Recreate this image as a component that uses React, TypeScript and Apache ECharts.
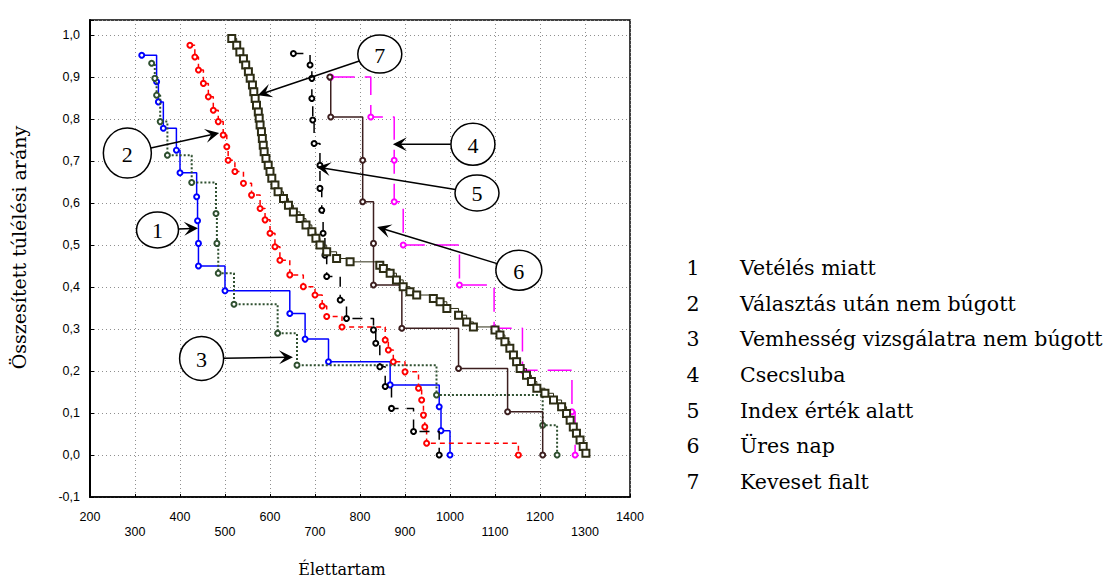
import React, { useEffect, useRef } from "react";
import * as echarts from "echarts";

// ---- data ----
const seriesNames = [
  "Vetélés miatt",
  "Választás után nem búgott",
  "Vemhesség vizsgálatra nem búgott",
  "Csecsluba",
  "Index érték alatt",
  "Üres nap",
  "Keveset fialt",
];
const legendNumbers = ["1", "2", "3", "4", "5", "6", "7"];

const s1 = [[315,0.952],[348,0.889],[352,0.841],[363,0.778],[392,0.726],[400,0.672],[437,0.615],[439,0.558],[441,0.504],[441,0.45],[500,0.391],[644,0.337],[678,0.276],[730,0.222],[867,0.167],[976,0.115],[980,0.058],[1000,0.0]];
const s2 = [[422,0.976],[433,0.948],[441,0.917],[452,0.885],[463,0.853],[474,0.821],[485,0.794],[496,0.762],[504,0.734],[507,0.702],[522,0.675],[541,0.647],[559,0.619],[578,0.587],[589,0.56],[600,0.528],[611,0.496],[622,0.464],[644,0.429],[674,0.401],[700,0.381],[716,0.355],[726,0.33],[760,0.305],[856,0.274],[863,0.25],[874,0.222],[900,0.198],[930,0.159],[937,0.131],[941,0.095],[944,0.067],[948,0.028],[1152,0.0]];
const s3 = [[337,0.933],[344,0.897],[348,0.857],[356,0.794],[372,0.714],[426,0.649],[480,0.575],[482,0.504],[485,0.433],[520,0.359],[617,0.29],[660,0.214],[970,0.143],[1206,0.071],[1238,0.0]];
const s4 = [[735,0.9],[824,0.805],[876,0.702],[876,0.603],[896,0.5],[1021,0.405],[1098,0.302],[1161,0.202],[1271,0.103],[1278,0.0]];
const s5 = [[652,0.956],[689,0.929],[693,0.897],[693,0.849],[695,0.798],[698,0.742],[711,0.69],[711,0.635],[715,0.583],[718,0.528],[722,0.476],[726,0.425],[756,0.369],[770,0.325],[830,0.298],[835,0.266],[844,0.21],[856,0.163],[870,0.111],[919,0.056],[976,0.0]];
const s6 = [[733,0.9],[735,0.805],[806,0.702],[806,0.603],[830,0.504],[830,0.405],[893,0.302],[1019,0.206],[1128,0.103],[1206,0.0]];
const s7 = [[515,0.992],[526,0.976],[533,0.96],[541,0.944],[546,0.929],[552,0.913],[556,0.897],[561,0.881],[564,0.865],[567,0.849],[570,0.833],[574,0.817],[576,0.802],[578,0.786],[581,0.77],[583,0.754],[585,0.738],[587,0.722],[591,0.706],[596,0.69],[600,0.675],[604,0.659],[611,0.643],[618,0.627],[630,0.611],[641,0.595],[652,0.579],[667,0.563],[680,0.548],[693,0.532],[702,0.516],[711,0.5],[726,0.484],[748,0.468],[778,0.46],[844,0.452],[852,0.444],[867,0.433],[881,0.417],[896,0.401],[911,0.389],[926,0.381],[963,0.373],[978,0.365],[993,0.349],[1019,0.333],[1037,0.317],[1052,0.305],[1100,0.298],[1111,0.286],[1122,0.27],[1133,0.254],[1141,0.238],[1148,0.222],[1156,0.206],[1170,0.19],[1181,0.175],[1193,0.159],[1211,0.147],[1230,0.131],[1248,0.115],[1259,0.099],[1267,0.083],[1274,0.067],[1281,0.052],[1289,0.036],[1296,0.02],[1302,0.004]];

const seriesData = [s1, s2, s3, s4, s5, s6, s7];

// callouts: number, circle centre (data), arrow tip (data)
const calloutLabels = ["1", "2", "3", "4", "5", "6", "7"];
const calloutCentres = [[350,0.536],[283,0.719],[448,0.23],[1051,0.74],[1060,0.624],[1153,0.44],[844,0.955]];
const calloutTips = [[440,0.54],[487,0.767],[651,0.233],[873,0.74],[704,0.686],[838,0.543],[573,0.857]];

// ---- styles ----
const colors = ["#0000ff", "#ff0000", "#2f5030", "#ff00ff", "#000000", "#3c1f1f", "#2d2d14"];
const lineTypes: any[] = ["solid", [5, 4], [2, 2], [24, 10], [10, 8], "solid", "solid"];
const lineWidths = [1.5, 1.5, 2, 1.5, 1.5, 1.5, 1];
const symbols = ["emptyCircle", "emptyCircle", "emptyCircle", "emptyCircle", "emptyCircle", "emptyCircle", "emptyRect"];
const calloutRadii = [[21, 18], [24, 25], [22, 22], [22, 21], [22, 18], [23, 20], [22, 19]];

const fmtY = (v: number) => {
  const k = Math.round(v * 10);
  if (Math.abs(v * 10 - k) > 1e-6) return "";
  return (k / 10).toFixed(1).replace(".", ",");
};

export default function App() {
  const ref = useRef<HTMLDivElement>(null);
  useEffect(() => {
    const chart = echarts.init(ref.current!, null, { renderer: "svg" });
    const option: any = {
      animation: false,
      backgroundColor: "#ffffff",
      grid: { left: 90, right: 487, top: 20, bottom: 85, show: true, borderColor: "#000", borderWidth: 1.5 },
      xAxis: {
        type: "value",
        min: 200,
        max: 1400,
        interval: 100,
        name: "Élettartam",
        nameLocation: "middle",
        nameGap: 64,
        nameTextStyle: { fontFamily: "DejaVu Serif", fontSize: 16, color: "#000", padding: [0, 36, 0, 0] },
        axisLine: { onZero: false, lineStyle: { color: "#000", width: 1.5 } },
        axisTick: { show: true, inside: true, length: 3, lineStyle: { color: "#000" } },
        axisLabel: {
          color: "#000",
          fontFamily: "Liberation Sans",
          fontSize: 12.5,
          margin: 12,
          lineHeight: 15,
          interval: 0,
          hideOverlap: false,
          formatter: (v: number) => (Math.round((v - 200) / 100) % 2 === 1 ? "\n" + v : String(v)),
        },
        splitLine: { show: true, lineStyle: { color: "#8f8f8f", type: [1, 3], width: 1 } },
      },
      yAxis: {
        type: "value",
        min: -0.1,
        max: 1.036,
        interval: 0.1,
        name: "Összesített túlélési arány",
        nameLocation: "middle",
        nameGap: 62,
        nameRotate: 90,
        nameTextStyle: { fontFamily: "DejaVu Serif", fontSize: 19, color: "#000", padding: [0, 0, 0, 22] },
        axisLine: { onZero: false, lineStyle: { color: "#000", width: 2 } },
        axisTick: { show: true, inside: true, length: 4, lineStyle: { color: "#000" } },
        axisLabel: { color: "#000", fontFamily: "Liberation Sans", fontSize: 12.5, margin: 10, formatter: fmtY },
        splitLine: { show: true, lineStyle: { color: "#8f8f8f", type: [1, 3], width: 1 } },
      },
      series: seriesData.map((d, i) => ({
        name: seriesNames[i],
        type: "line",
        step: "end",
        data: d,
        symbol: symbols[i],
        symbolSize: i === 6 ? 7 : 5,
        showAllSymbol: true,
        z: 2 + i,
        lineStyle: { color: colors[i], width: lineWidths[i], type: lineTypes[i] },
        itemStyle: { color: colors[i], borderColor: colors[i], borderWidth: i === 6 ? 1.5 : 1.2 },
      })),
    };
    chart.setOption(option);

    const toPx = (p: number[]) => chart.convertToPixel({ gridIndex: 0 }, p) as number[];
    const graphics: any[] = [];
    calloutLabels.forEach((lab, i) => {
      const [cx, cy] = toPx(calloutCentres[i]);
      const [tx, ty] = toPx(calloutTips[i]);
      const [rx, ry] = calloutRadii[i];
      const dx = tx - cx, dy = ty - cy;
      const t = 1 / Math.sqrt((dx / rx) ** 2 + (dy / ry) ** 2);
      const sx = cx + dx * t, sy = cy + dy * t;
      const len = Math.sqrt(dx * dx + dy * dy);
      const ux = dx / len, uy = dy / len;
      const nx = -uy, ny = ux;
      graphics.push({
        type: "line",
        z: 100,
        shape: { x1: sx, y1: sy, x2: tx - ux * 6, y2: ty - uy * 6 },
        style: { stroke: "#000", lineWidth: 1.5 },
      });
      graphics.push({
        type: "polygon",
        z: 101,
        shape: {
          points: [
            [tx, ty],
            [tx - 14 * ux + 7 * nx, ty - 14 * uy + 7 * ny],
            [tx - 8 * ux, ty - 8 * uy],
            [tx - 14 * ux - 7 * nx, ty - 14 * uy - 7 * ny],
          ],
        },
        style: { fill: "#000" },
      });
      graphics.push({
        type: "ellipse",
        z: 102,
        shape: { cx, cy, rx, ry },
        style: { fill: "#fff", stroke: "#000", lineWidth: 1.5 },
      });
      graphics.push({
        type: "text",
        z: 103,
        x: cx,
        y: cy + 1,
        style: { text: lab, fontFamily: "Liberation Serif", fontSize: 22, fill: "#000", align: "center", verticalAlign: "middle" },
      });
    });
    legendNumbers.forEach((n, i) => {
      const y = 268 + i * 35.67;
      graphics.push({
        type: "text",
        x: 693,
        y,
        style: { text: n, fontFamily: "DejaVu Serif", fontSize: 20.5, fill: "#000", align: "center", verticalAlign: "middle" },
      });
      graphics.push({
        type: "text",
        x: 740,
        y,
        style: { text: seriesNames[i], fontFamily: "DejaVu Serif", fontSize: 20.5, fill: "#000", align: "left", verticalAlign: "middle" },
      });
    });
    chart.setOption({ graphic: graphics });
    return () => chart.dispose();
  }, []);
  return <div ref={ref} style={{ position: "fixed", left: 0, top: 0, width: 1117, height: 582 }} />;
}
